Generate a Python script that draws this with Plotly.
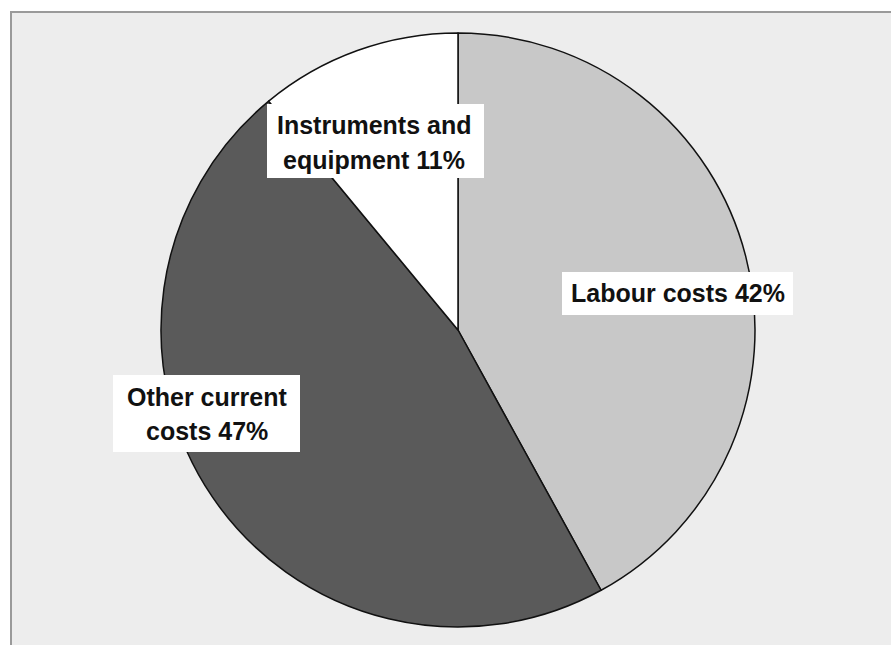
import plotly.graph_objects as go

categories = ["Labour costs", "Other current costs", "Instruments and equipment"]
shares = [42, 47, 11]
slice_colors = ["#c8c8c8", "#5a5a5a", "#ffffff"]
label_lines = [["Labour costs 42%"], ["Other current", "costs 47%"], ["Instruments and", "equipment 11%"]]

W, H = 891, 645

def px(x):
    return x / W

def py(y):
    return 1 - y / H

fig = go.Figure()
fig.add_trace(go.Pie(
    labels=categories,
    values=shares,
    sort=False,
    direction="clockwise",
    rotation=0,
    textinfo="none",
    hoverinfo="label+percent",
    marker=dict(colors=slice_colors, line=dict(color="#111111", width=1.5)),
    domain=dict(x=[px(161), px(755)], y=[py(628), py(32)]),
    showlegend=False,
))

shapes = [
    dict(type="rect", xref="paper", yref="paper", x0=px(11), x1=px(910), y0=py(670), y1=py(12),
         fillcolor="#ededed", line=dict(color="#9a9a9a", width=2), layer="below"),
]
# label boxes (x0, y0, x1, y1 in pixels)
boxes = [(562, 272, 793, 315), (113, 375, 300, 452), (267, 104, 484, 178)]
for (x0, y0, x1, y1) in boxes:
    shapes.append(dict(type="rect", xref="paper", yref="paper", x0=px(x0), x1=px(x1), y0=py(y1), y1=py(y0),
                       fillcolor="#ffffff", line=dict(width=0), layer="above"))

# label line positions (center x, center y per line)
line_pos = [[(678, 293)], [(207, 397), (207, 431)], [(374, 125), (374, 160)]]
annotations = []
for lines, poss in zip(label_lines, line_pos):
    for t, (cx, cy) in zip(lines, poss):
        annotations.append(dict(text="<b>" + t + "</b>", x=px(cx), y=py(cy), xref="paper", yref="paper",
                                xanchor="center", yanchor="middle", showarrow=False,
                                font=dict(family="Liberation Sans, Arial, sans-serif", size=25, color="#111111")))

fig.update_layout(
    width=W, height=H,
    margin=dict(l=0, r=0, t=0, b=0),
    paper_bgcolor="#ffffff",
    plot_bgcolor="#ffffff",
    shapes=shapes,
    annotations=annotations,
)

fig.write_html("out.html")
